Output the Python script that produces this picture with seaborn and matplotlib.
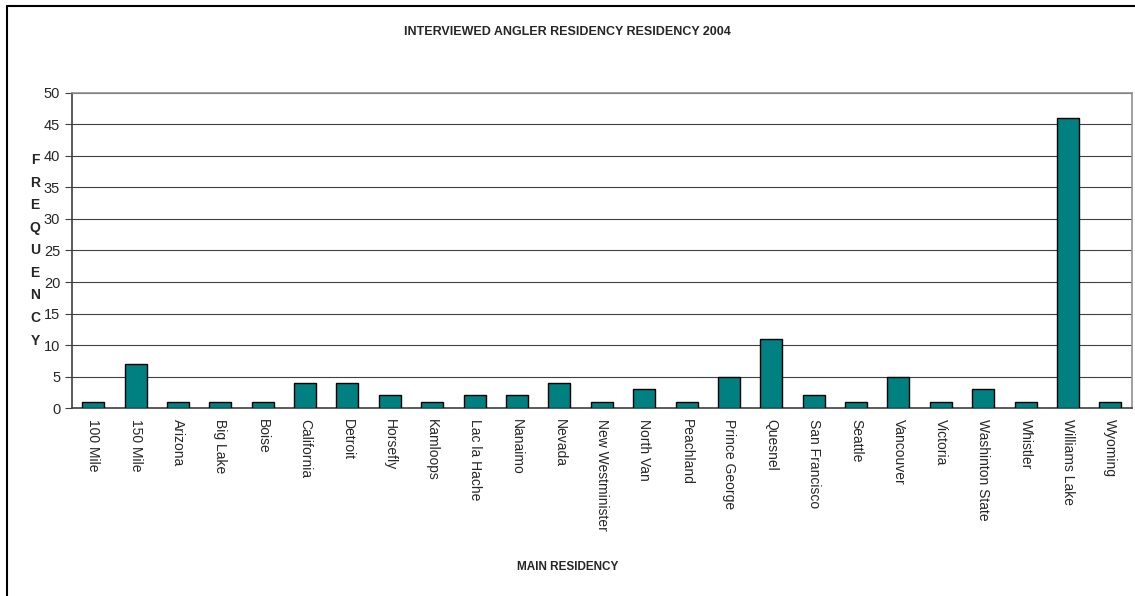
import numpy as np
import pandas as pd
import seaborn as sns
import matplotlib.pyplot as plt
from matplotlib.lines import Line2D

places = ['100 Mile', '150 Mile', 'Arizona', 'Big Lake', 'Boise', 'California',
          'Detroit', 'Horsefly', 'Kamloops', 'Lac la Hache', 'Nanaimo', 'Nevada',
          'New Westminister', 'North Van', 'Peachland', 'Prince George', 'Quesnel',
          'San Francisco', 'Seattle', 'Vancouver', 'Victoria', 'Washinton State',
          'Whistler', 'Williams Lake', 'Wyoming']
counts = [1, 7, 1, 1, 1, 4, 4, 2, 1, 2, 2, 4, 1, 3, 1, 5, 11, 2, 1, 5, 1, 3, 1, 46, 1]
y_ticks = list(range(0, 51, 5))

df = pd.DataFrame({'place': places, 'count': counts})

sns.set_style('white')
plt.rcParams['font.family'] = ['Liberation Sans', 'DejaVu Sans']

fig = plt.figure(figsize=(11.35, 5.96), dpi=100)
ax = fig.add_axes([0.0634, 0.3154, 0.9336, 0.5286])

sns.barplot(data=df, x='place', y='count', color='#008080', saturation=1,
            edgecolor='black', linewidth=1, width=0.52, ax=ax, zorder=3)

ax.set_ylim(0, 50)
ax.set_xlim(-0.5, len(places) - 0.5)
ax.set_yticks(y_ticks)
ax.yaxis.grid(True, color='#404040', linewidth=0.8, zorder=0)
ax.set_axisbelow(True)

# category ticks sit between bars
ax.set_xticks(np.arange(len(places)))
ax.set_xticklabels(places, rotation=-90, fontsize=10)
ax.tick_params(axis='x', length=0, pad=8)
ax.set_xticks(np.arange(-0.5, len(places), 1), minor=True)
ax.tick_params(axis='x', which='minor', length=5, color='#404040', direction='out')
ax.tick_params(axis='y', length=5, color='#404040', direction='out', left=True, labelsize=10.5)

for s in ['top', 'right']:
    ax.spines[s].set_color('#909090')
    ax.spines[s].set_linewidth(1.2)
for s in ['left', 'bottom']:
    ax.spines[s].set_color('#404040')
    ax.spines[s].set_linewidth(1.2)

ax.set_xlabel('')
ax.set_ylabel('')
fig.text(0.5, 0.946, 'INTERVIEWED ANGLER RESIDENCY RESIDENCY 2004', ha='center',
         va='center', fontsize=9, fontweight='bold')
fig.text(0.5, 0.049, 'MAIN RESIDENCY', ha='center', va='center', fontsize=8.5,
         fontweight='bold')
fig.text(0.031, 0.58, '\n'.join('FREQUENCY'), ha='center', va='center', fontsize=10,
         fontweight='bold', linespacing=1.78)

# outer chart border (only top and left edges fall inside the image)
fig.add_artist(Line2D([0.0066, 1.0], [0.99, 0.99], transform=fig.transFigure,
                      color='black', linewidth=1.5))
fig.add_artist(Line2D([0.0066, 0.0066], [0.0, 0.99], transform=fig.transFigure,
                      color='black', linewidth=1.5))

fig.savefig('out.png', dpi=100)
